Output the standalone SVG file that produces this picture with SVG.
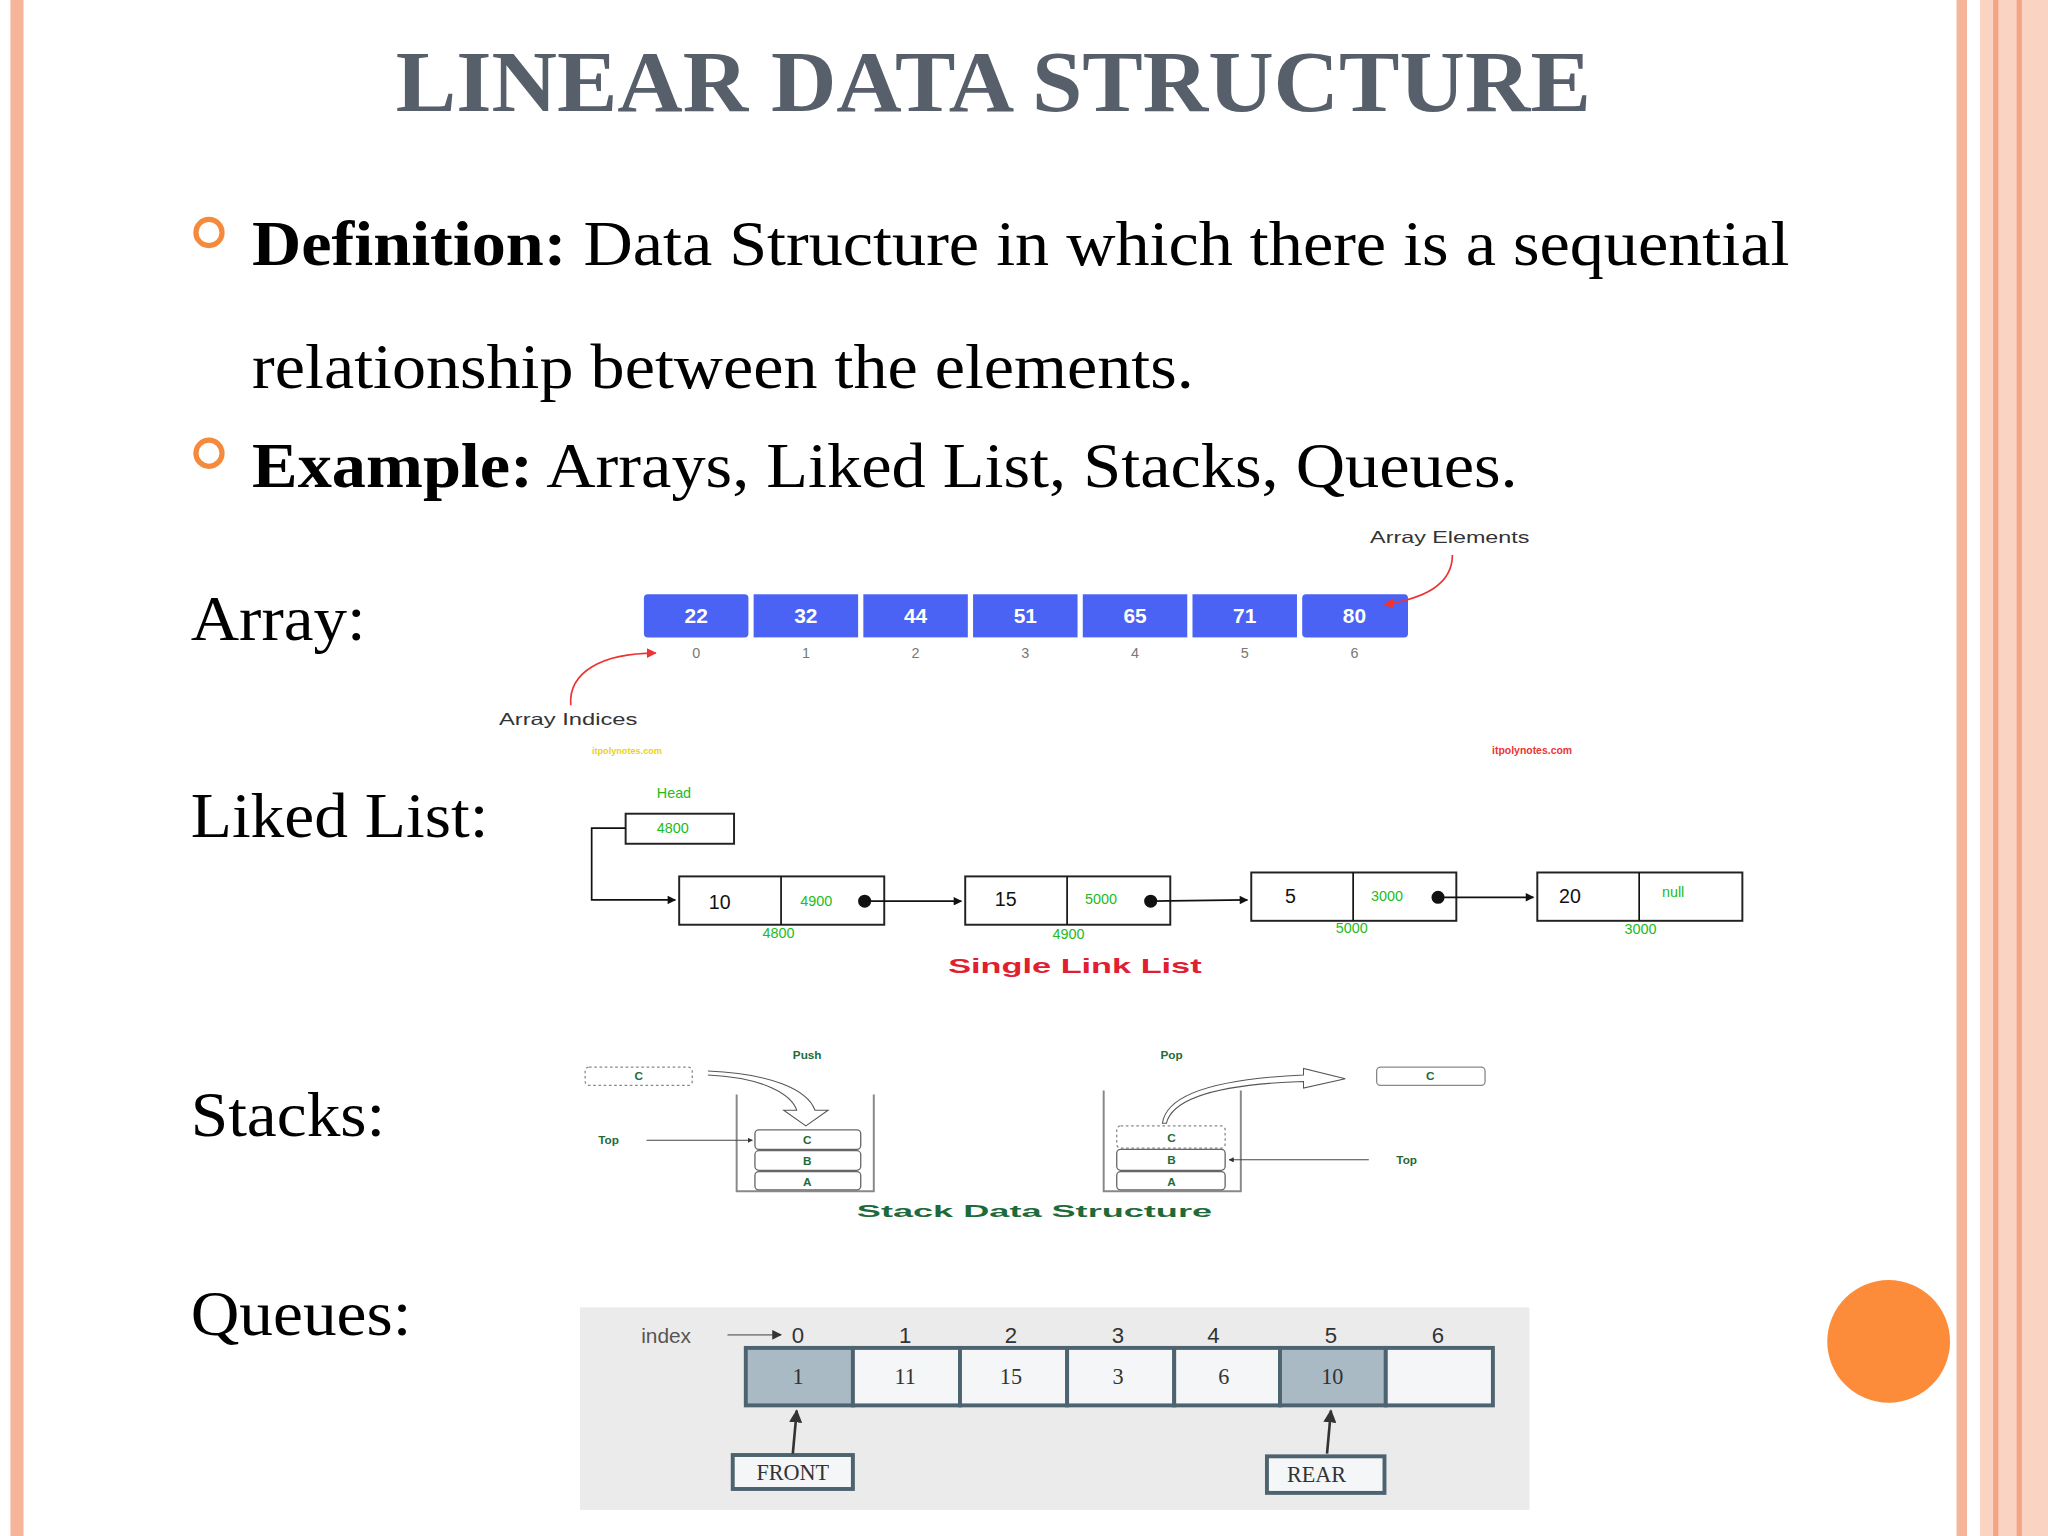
<svg xmlns="http://www.w3.org/2000/svg" width="2048" height="1536" viewBox="0 0 2048 1536">
<style>
.serif{font-family:"Liberation Serif",serif}
.sans{font-family:"Liberation Sans",Arial,sans-serif}
.big{font-size:48px;fill:#000}
.cell{fill:#4a63f5}
.cv{font-size:16px;fill:#fff;font-weight:bold;text-anchor:middle}
.idx{font-size:11px;fill:#777;text-anchor:middle}
.nd{fill:#fff;stroke:#222;stroke-width:1.5}
.g{fill:#22bb22;font-size:11px;text-anchor:middle}
.dg{fill:#1e6b3a;font-size:9px;font-weight:bold;text-anchor:middle}
.sb{fill:#fff;stroke:#666;stroke-width:1;rx:3}
.ln{stroke:#111;stroke-width:1.3;fill:none}
.qc{stroke:#4d6470;stroke-width:3;fill:#f4f6f7}
.qt{font-size:17px;fill:#333;text-anchor:middle}
</style>
<defs>
<marker id="ah" viewBox="0 0 10 10" refX="9" refY="5" markerWidth="7" markerHeight="5" orient="auto-start-reverse"><path d="M0,0L10,5L0,10z" fill="#111"/></marker>
<marker id="rh" viewBox="0 0 10 10" refX="9" refY="5" markerWidth="6" markerHeight="6" orient="auto"><path d="M0,0L10,5L0,10z" fill="#e33"/></marker>
<marker id="sh" viewBox="0 0 10 10" refX="9" refY="5" markerWidth="5" markerHeight="5" orient="auto"><path d="M0,0L10,5L0,10z" fill="#333"/></marker>
</defs>
<rect width="2048" height="1536" fill="#fff"/>
<g transform="scale(1.30612)">
<g id="frame">
<rect x="8" y="0" width="10" height="1176" fill="#f6b49a"/>
<rect x="1498" y="0" width="8" height="1176" fill="#f6b49a"/>
<rect x="1516" y="0" width="52" height="1176" fill="#fbd3c2"/>
<rect x="1526" y="0" width="4" height="1176" fill="#f3a486"/>
<rect x="1544" y="0" width="4" height="1176" fill="#f3a486"/>
<circle cx="1446" cy="1027" r="47" fill="#fd8c3a"/>
</g>
<g id="title"><text x="303" y="85" class="serif" font-size="66" font-weight="bold" fill="#575f6b" textLength="915" lengthAdjust="spacingAndGlyphs">LINEAR DATA STRUCTURE</text></g>
<g id="bullets">
<circle cx="160" cy="178" r="10" fill="none" stroke="#f58a3c" stroke-width="4"/>
<circle cx="160" cy="347" r="10" fill="none" stroke="#f58a3c" stroke-width="4"/>
<text x="193" y="203" class="serif big" textLength="1177" lengthAdjust="spacingAndGlyphs"><tspan font-weight="bold">Definition:</tspan> Data Structure in which there is a sequential</text>
<text x="193" y="297" class="serif big" textLength="721" lengthAdjust="spacingAndGlyphs">relationship between the elements.</text>
<text x="193" y="373" class="serif big" textLength="969" lengthAdjust="spacingAndGlyphs"><tspan font-weight="bold">Example:</tspan> Arrays, Liked List, Stacks, Queues.</text>
<text x="146" y="490" class="serif big" textLength="134" lengthAdjust="spacingAndGlyphs">Array:</text>
<text x="146" y="641" class="serif big" textLength="228" lengthAdjust="spacingAndGlyphs">Liked List:</text>
<text x="146" y="870" class="serif big" textLength="149" lengthAdjust="spacingAndGlyphs">Stacks:</text>
<text x="146" y="1022" class="serif big" textLength="169" lengthAdjust="spacingAndGlyphs">Queues:</text>
</g>
<g id="array" class="sans">
<rect class="cell" x="493" y="455" width="80" height="33" rx="3"/>
<rect class="cell" x="577" y="455" width="80" height="33"/>
<rect class="cell" x="661" y="455" width="80" height="33"/>
<rect class="cell" x="745" y="455" width="80" height="33"/>
<rect class="cell" x="829" y="455" width="80" height="33"/>
<rect class="cell" x="913" y="455" width="80" height="33"/>
<rect class="cell" x="997" y="455" width="81" height="33" rx="3"/>
<text class="cv" x="533" y="477">22</text><text class="cv" x="617" y="477">32</text><text class="cv" x="701" y="477">44</text><text class="cv" x="785" y="477">51</text><text class="cv" x="869" y="477">65</text><text class="cv" x="953" y="477">71</text><text class="cv" x="1037" y="477">80</text>
<text class="idx" x="533" y="504">0</text><text class="idx" x="617" y="504">1</text><text class="idx" x="701" y="504">2</text><text class="idx" x="785" y="504">3</text><text class="idx" x="869" y="504">4</text><text class="idx" x="953" y="504">5</text><text class="idx" x="1037" y="504">6</text>
<text x="1110" y="416" font-size="12" fill="#333" text-anchor="middle" textLength="122" lengthAdjust="spacingAndGlyphs">Array Elements</text>
<text x="435" y="555" font-size="12" fill="#333" text-anchor="middle" textLength="106" lengthAdjust="spacingAndGlyphs">Array Indices</text>
<path d="M1112,425 C1112,448 1090,458 1060,463" fill="none" stroke="#e33" stroke-width="1.3" marker-end="url(#rh)"/>
<path d="M437,540 C435,515 460,500 502,500" fill="none" stroke="#e33" stroke-width="1.3" marker-end="url(#rh)"/>
<text x="480" y="577" font-size="7" fill="#e8d21a" text-anchor="middle" font-weight="bold">itpolynotes.com</text>
<text x="1173" y="577" font-size="8" fill="#e33" text-anchor="middle" font-weight="bold">itpolynotes.com</text>
</g>
<g id="linkedlist" class="sans">
<text class="g" x="516" y="611">Head</text>
<rect class="nd" x="479" y="623" width="83" height="23"/>
<text class="g" x="515" y="638">4800</text>
<rect class="nd" x="520" y="671" width="157" height="37"/><line class="ln" x1="598" y1="671" x2="598" y2="708"/>
<rect class="nd" x="739" y="671" width="157" height="37"/><line class="ln" x1="817" y1="671" x2="817" y2="708"/>
<rect class="nd" x="958" y="668" width="157" height="37"/><line class="ln" x1="1036" y1="668" x2="1036" y2="705"/>
<rect class="nd" x="1177" y="668" width="157" height="37"/><line class="ln" x1="1255" y1="668" x2="1255" y2="705"/>
<text x="551" y="696" font-size="15" fill="#111" text-anchor="middle">10</text>
<text x="770" y="694" font-size="15" fill="#111" text-anchor="middle">15</text>
<text x="988" y="691" font-size="15" fill="#111" text-anchor="middle">5</text>
<text x="1202" y="691" font-size="15" fill="#111" text-anchor="middle">20</text>
<text class="g" x="625" y="694">4900</text><text class="g" x="843" y="692">5000</text><text class="g" x="1062" y="690">3000</text><text class="g" x="1281" y="687">null</text>
<text class="g" x="596" y="718">4800</text><text class="g" x="818" y="719">4900</text><text class="g" x="1035" y="714">5000</text><text class="g" x="1256" y="715">3000</text>
<circle cx="662" cy="690" r="5" fill="#111"/><circle cx="881" cy="690" r="5" fill="#111"/><circle cx="1101" cy="687" r="5" fill="#111"/>
<text x="823" y="745" font-size="16" font-weight="bold" fill="#e02030" text-anchor="middle" textLength="194" lengthAdjust="spacingAndGlyphs">Single Link List</text>
</g>
<g id="stacks" class="sans">
<text class="dg" x="618" y="811">Push</text><text class="dg" x="897" y="811">Pop</text>
<rect x="448" y="817" width="82" height="14" rx="3" fill="none" stroke="#888" stroke-dasharray="2,2"/>
<text class="dg" x="489" y="827">C</text>
<path d="M564,838 V912 H669 V838" fill="none" stroke="#888" stroke-width="1.5"/>
<rect class="sb" x="578" y="865" width="81" height="15"/><rect class="sb" x="578" y="881" width="81" height="15"/><rect class="sb" x="578" y="897" width="81" height="14"/>
<text class="dg" x="618" y="876">C</text><text class="dg" x="618" y="892">B</text><text class="dg" x="618" y="908">A</text>
<text class="dg" x="466" y="876">Top</text>
<path d="M542,823 C585,825 606,838 610,850 L600,850 L617,862 L634,850 L624,850 C618,834 590,822 542,820" fill="#fff" stroke="#555" stroke-width="0.8"/>
<path d="M845,835 V912 H950 V835" fill="none" stroke="#888" stroke-width="1.5"/>
<rect x="855" y="862" width="83" height="17" rx="3" fill="none" stroke="#888" stroke-dasharray="2,2"/>
<rect class="sb" x="855" y="880" width="83" height="16"/><rect class="sb" x="855" y="897" width="83" height="14"/>
<text class="dg" x="897" y="874">C</text><text class="dg" x="897" y="891">B</text><text class="dg" x="897" y="908">A</text>
<text class="dg" x="1077" y="891">Top</text>
<path d="M890,860 C893,838 930,826 998,823 L998,818 L1030,826 L998,833 L998,828 C935,830 898,840 893,860 Z" fill="#fff" stroke="#555" stroke-width="0.8"/>
<rect x="1054" y="817" width="83" height="14" rx="3" fill="#fff" stroke="#888"/>
<text class="dg" x="1095" y="827">C</text>
<text x="792" y="932" font-size="12" font-weight="bold" fill="#1e6b3a" text-anchor="middle" textLength="272" lengthAdjust="spacingAndGlyphs">Stack Data Structure</text>
</g>
<g id="queue">
<rect x="444" y="1001" width="727" height="155" fill="#ebebeb"/>
<text x="510" y="1028" class="sans" font-size="16" fill="#555" text-anchor="middle">index</text>
<g class="qt sans"><text x="611" y="1028">0</text><text x="693" y="1028">1</text><text x="774" y="1028">2</text><text x="856" y="1028">3</text><text x="929" y="1028">4</text><text x="1019" y="1028">5</text><text x="1101" y="1028">6</text></g>
<rect class="qc" x="571" y="1032" width="82" height="44" style="fill:#a9bac5"/>
<rect class="qc" x="653" y="1032" width="82" height="44"/>
<rect class="qc" x="735" y="1032" width="82" height="44"/>
<rect class="qc" x="817" y="1032" width="82" height="44"/>
<rect class="qc" x="899" y="1032" width="81" height="44"/>
<rect class="qc" x="980" y="1032" width="81" height="44" style="fill:#a9bac5"/>
<rect class="qc" x="1061" y="1032" width="82" height="44"/>
<g class="qt serif"><text x="611" y="1060">1</text><text x="693" y="1060">11</text><text x="774" y="1060">15</text><text x="856" y="1060">3</text><text x="937" y="1060">6</text><text x="1020" y="1060">10</text></g>
<rect x="561" y="1114" width="92" height="26" fill="#f4f6f7" stroke="#4d6470" stroke-width="3"/>
<text x="607" y="1133" class="qt serif">FRONT</text>
<rect x="970" y="1115" width="90" height="28" fill="#f4f6f7" stroke="#4d6470" stroke-width="3"/>
<text x="1008" y="1135" class="qt serif">REAR</text>
</g>
<g id="connectors">
<path class="ln" d="M479,634 H453 V689 H517" marker-end="url(#ah)"/>
<line class="ln" x1="662" y1="690" x2="736" y2="690" marker-end="url(#ah)"/>
<line class="ln" x1="881" y1="690" x2="955" y2="689" marker-end="url(#ah)"/>
<line class="ln" x1="1101" y1="687" x2="1174" y2="687" marker-end="url(#ah)"/>
<line x1="495" y1="873" x2="576" y2="873" stroke="#444" stroke-width="0.8" marker-end="url(#sh)"/>
<line x1="1048" y1="888" x2="941" y2="888" stroke="#444" stroke-width="0.8" marker-end="url(#sh)"/>
<line x1="557" y1="1022" x2="598" y2="1022" stroke="#888" stroke-width="1.5" marker-end="url(#sh)"/>
<line x1="607" y1="1113" x2="610" y2="1080" stroke="#333" stroke-width="2" marker-end="url(#sh)"/>
<line x1="1016" y1="1113" x2="1019" y2="1080" stroke="#333" stroke-width="2" marker-end="url(#sh)"/>
</g>
</g>
</svg>
